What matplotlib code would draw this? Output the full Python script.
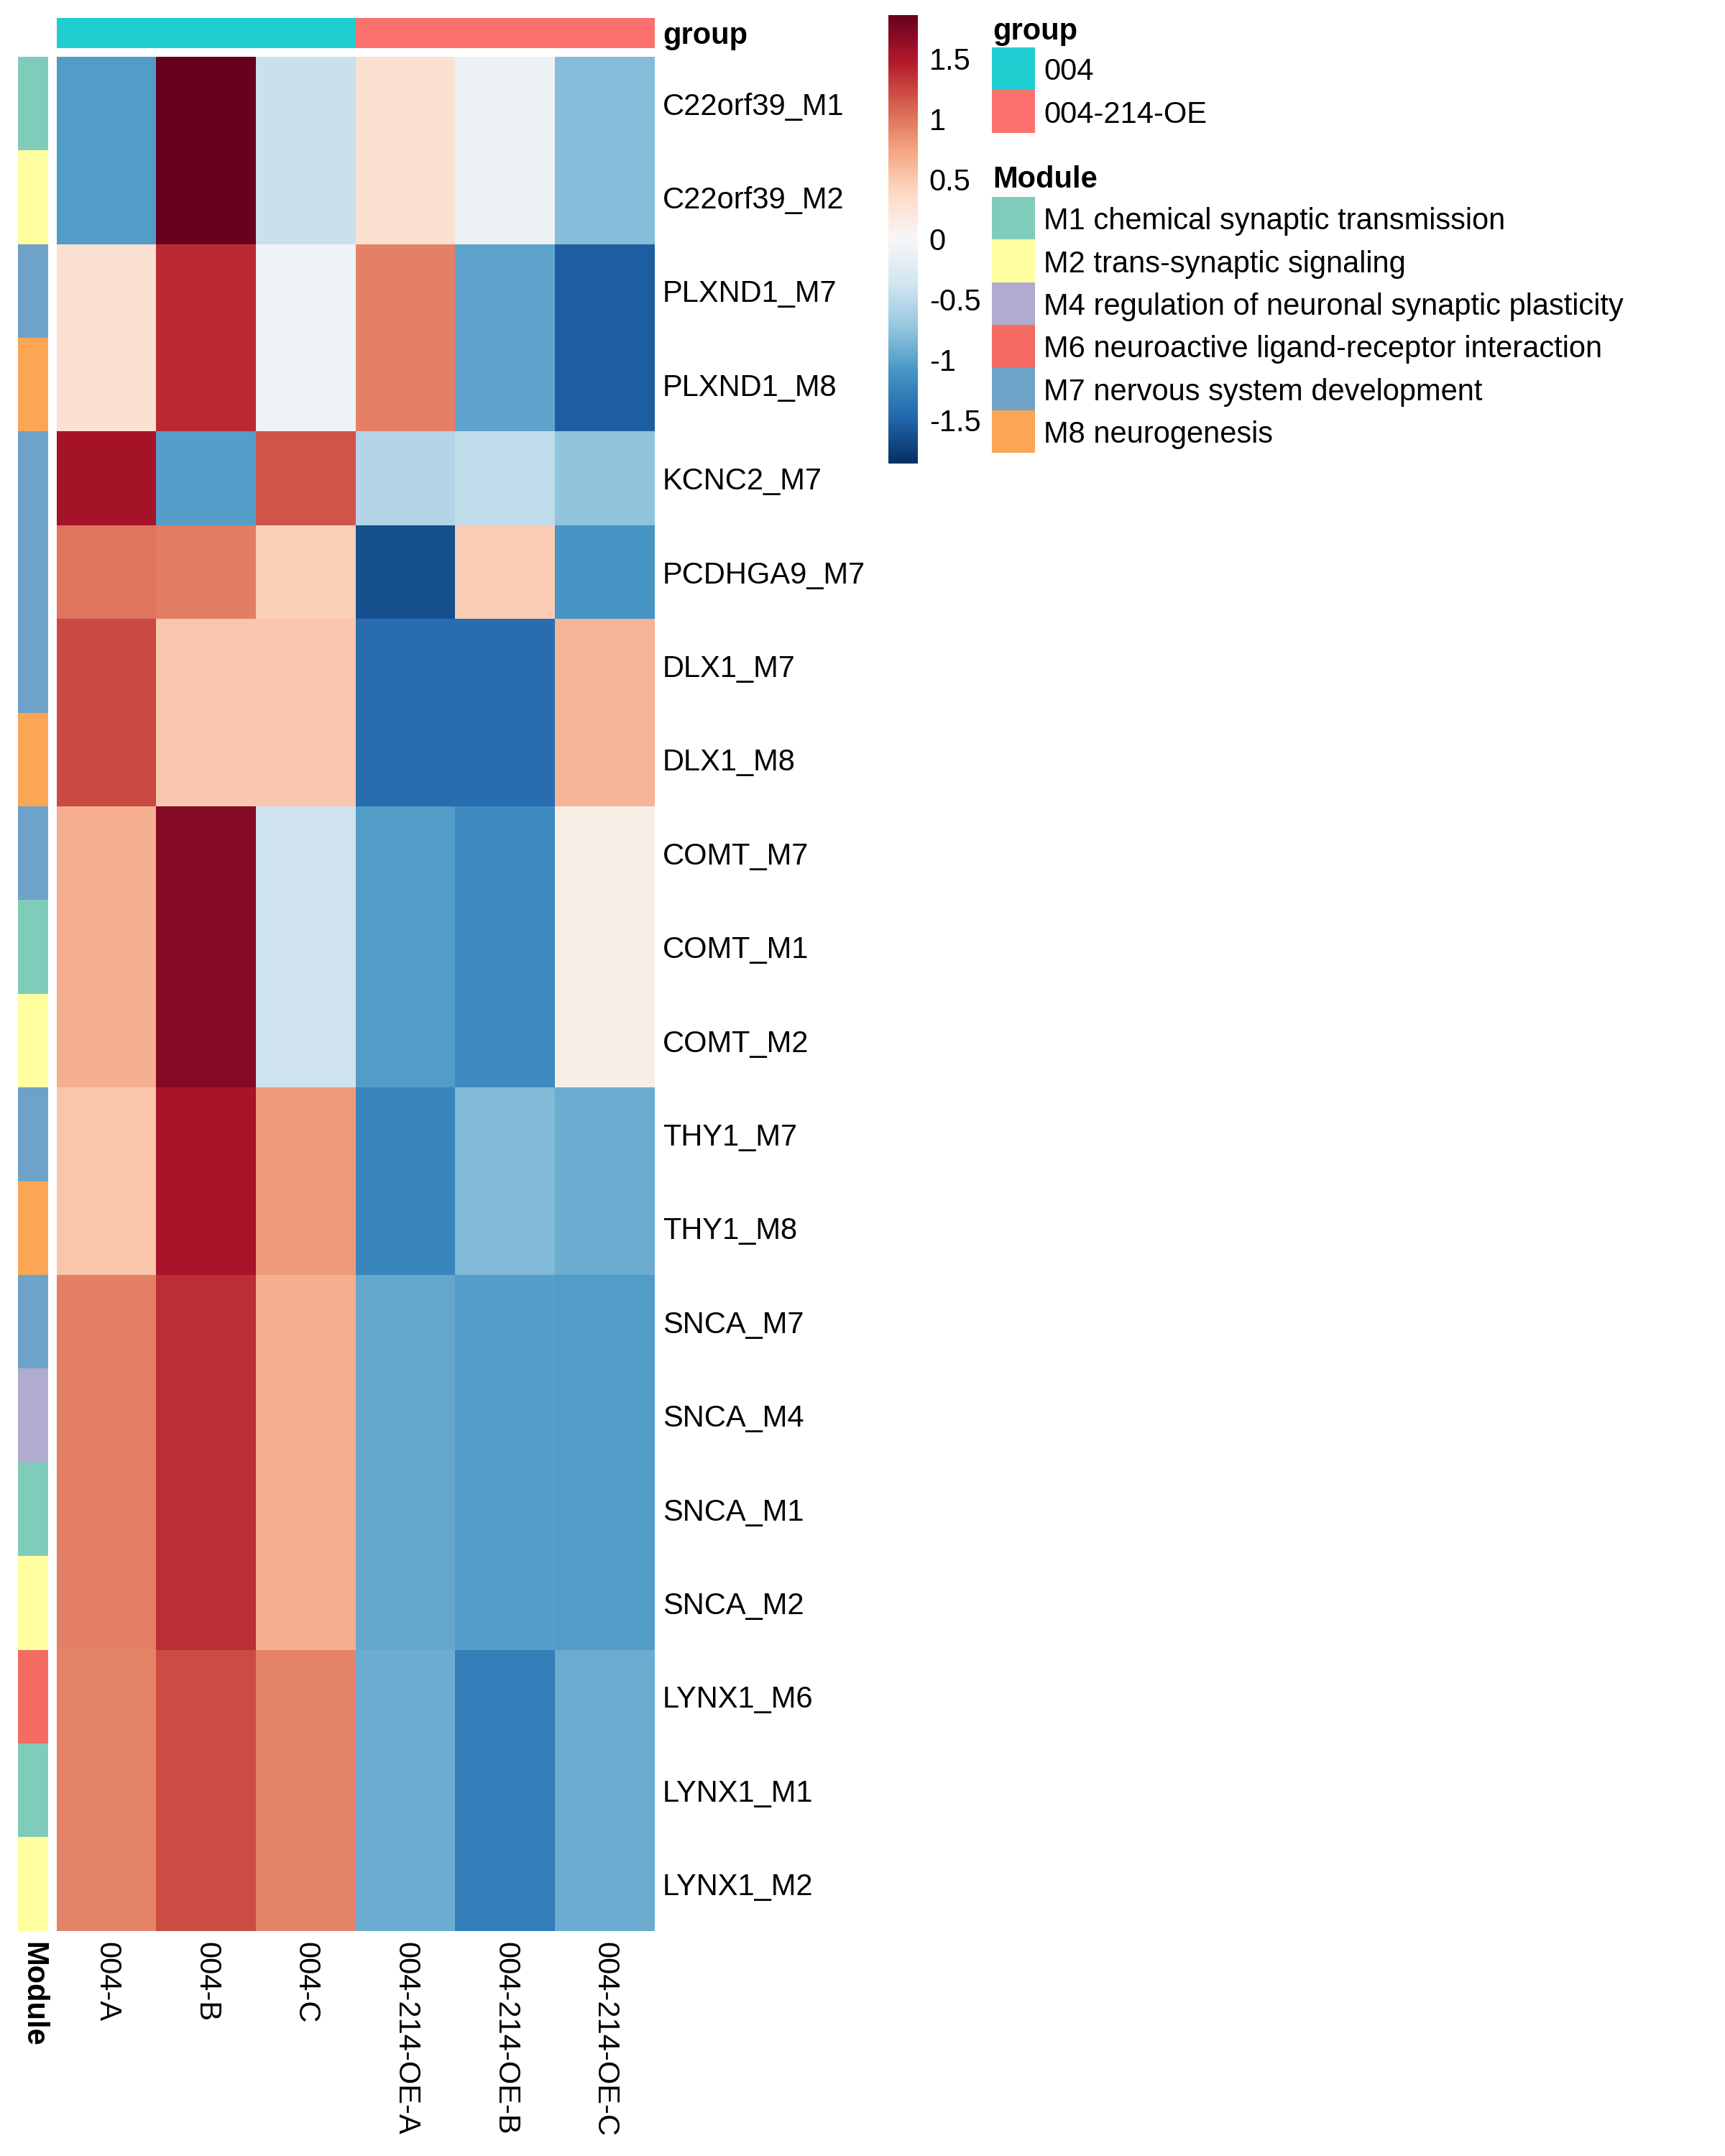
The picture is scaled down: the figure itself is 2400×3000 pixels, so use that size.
import numpy as np
import matplotlib
matplotlib.use("Agg")
import matplotlib.pyplot as plt
from matplotlib.colors import ListedColormap
from matplotlib.patches import Rectangle

plt.rcParams["font.family"] = ["Liberation Sans", "DejaVu Sans"]
plt.rcParams["axes.unicode_minus"] = False

# samples / groups
samples = ["004-A", "004-B", "004-C", "004-214-OE-A", "004-214-OE-B", "004-214-OE-C"]
sample_group = ["004", "004", "004", "004-214-OE", "004-214-OE", "004-214-OE"]
groups = ["004", "004-214-OE"]
group_colors = ["#1FCED1", "#FB716E"]

# row-scaled expression per gene
c22orf39 = [-1.04, 1.86, -0.42, 0.29, -0.11, -0.80]
plxnd1 = [0.29, 1.39, -0.07, 0.93, -0.98, -1.54]
kcnc2 = [1.55, -1.02, 1.17, -0.55, -0.47, -0.75]
pcdhga9 = [0.99, 0.95, 0.44, -1.64, 0.47, -1.09]
dlx1 = [1.23, 0.50, 0.50, -1.42, -1.42, 0.63]
comt = [0.67, 1.71, -0.39, -1.04, -1.18, 0.11]
thy1 = [0.51, 1.54, 0.79, -1.21, -0.82, -0.92]
snca = [0.94, 1.37, 0.68, -0.95, -1.02, -1.04]
lynx1 = [0.92, 1.21, 0.92, -0.92, -1.27, -0.92]

gene_values = {"C22orf39": c22orf39, "PLXND1": plxnd1, "KCNC2": kcnc2,
               "PCDHGA9": pcdhga9, "DLX1": dlx1, "COMT": comt,
               "THY1": thy1, "SNCA": snca, "LYNX1": lynx1}

row_labels = ["C22orf39_M1", "C22orf39_M2", "PLXND1_M7", "PLXND1_M8", "KCNC2_M7",
              "PCDHGA9_M7", "DLX1_M7", "DLX1_M8", "COMT_M7", "COMT_M1", "COMT_M2",
              "THY1_M7", "THY1_M8", "SNCA_M7", "SNCA_M4", "SNCA_M1", "SNCA_M2",
              "LYNX1_M6", "LYNX1_M1", "LYNX1_M2"]

modules = ["M1", "M2", "M4", "M6", "M7", "M8"]
module_names = ["M1 chemical synaptic transmission", "M2 trans-synaptic signaling",
                "M4 regulation of neuronal synaptic plasticity",
                "M6 neuroactive ligand-receptor interaction",
                "M7 nervous system development", "M8 neurogenesis"]
module_colors = ["#80CCBB", "#FFFFA0", "#B0ACD0", "#F46B61", "#6FA2C9", "#FBA655"]

vlim = 1.86
cbar_ticks = [-1.5, -1, -0.5, 0, 0.5, 1, 1.5]

W, H = 2400, 3000


def px(x0, y0, x1, y1):
    return [x0 / W, 1 - y1 / H, (x1 - x0) / W, (y1 - y0) / H]


mat = np.array([gene_values[r.split("_")[0]] for r in row_labels])
row_mod = [modules.index(r.split("_")[1]) for r in row_labels]
col_grp = [groups.index(g) for g in sample_group]

fig = plt.figure(figsize=(8, 10), dpi=300)

# main heatmap
ax = fig.add_axes(px(79, 79, 911, 2687))
im = ax.imshow(mat, cmap="RdBu_r", vmin=-vlim, vmax=vlim, aspect="auto",
               interpolation="nearest")
ax.set_yticks(range(len(row_labels)))
ax.set_yticklabels(row_labels, fontsize=10)
ax.yaxis.tick_right()
ax.set_xticks(range(len(samples)))
ax.set_xticklabels(samples, fontsize=10, rotation=270, ha="center", va="top")
ax.tick_params(length=0)
ax.tick_params(axis="y", pad=2.6)
ax.tick_params(axis="x", pad=3.6)
for s in ax.spines.values():
    s.set_visible(False)

# group annotation bar
axg = fig.add_axes(px(79, 25, 911, 67))
axg.imshow(np.array([col_grp]), cmap=ListedColormap(group_colors), vmin=-0.5,
           vmax=len(groups) - 0.5, aspect="auto", interpolation="nearest")
axg.set_xticks([])
axg.set_yticks([0])
axg.set_yticklabels(["group"], fontsize=10, fontweight="bold")
axg.yaxis.tick_right()
axg.tick_params(length=0, pad=2.6)
for s in axg.spines.values():
    s.set_visible(False)

# module annotation column
axm = fig.add_axes(px(25, 79, 67, 2687))
axm.imshow(np.array(row_mod)[:, None], cmap=ListedColormap(module_colors),
           vmin=-0.5, vmax=len(modules) - 0.5, aspect="auto",
           interpolation="nearest")
axm.set_yticks([])
axm.set_xticks([0])
axm.set_xticklabels(["Module"], fontsize=10, fontweight="bold", rotation=270,
                    ha="center", va="top")
axm.tick_params(length=0, pad=3.6)
for s in axm.spines.values():
    s.set_visible(False)

# colour bar
cax = fig.add_axes(px(1236, 21, 1277, 645))
cb = fig.colorbar(im, cax=cax, ticks=cbar_ticks)
cb.ax.set_yticklabels(["%g" % t for t in cbar_ticks])
cb.outline.set_visible(False)
cax.tick_params(length=0, labelsize=10, pad=3.8)

# legends drawn in pixel space
lax = fig.add_axes([0, 0, 1, 1])
lax.set_xlim(0, W)
lax.set_ylim(H, 0)
lax.axis("off")

key_x, key_w, key_h, lab_x = 1380, 60, 59.4, 1452

lax.text(1381, 44, "group", fontsize=10, fontweight="bold", va="center")
y = 66
for name, col in zip(groups, group_colors):
    lax.add_patch(Rectangle((key_x, y), key_w, key_h, facecolor=col, edgecolor="none"))
    lax.text(lab_x, y + key_h / 2, name, fontsize=10, va="center_baseline")
    y += key_h

lax.text(1381, 250, "Module", fontsize=10, fontweight="bold", va="center")
y = 274
for name, col in zip(module_names, module_colors):
    lax.add_patch(Rectangle((key_x, y), key_w, key_h, facecolor=col, edgecolor="none"))
    lax.text(lab_x, y + key_h / 2, name, fontsize=10, va="center_baseline")
    y += key_h

fig.savefig("out.png", dpi=300)
